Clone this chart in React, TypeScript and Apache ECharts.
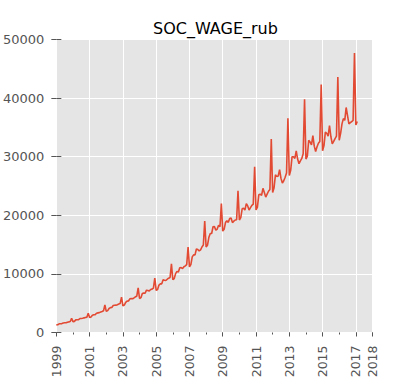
import React, { useEffect, useRef } from "react";
import * as echarts from "echarts";

const chartTitle = "SOC_WAGE_rub";
const firstYear = 1999;
const lastYear = 2018;
const yMin = 0;
const yMax = 50000;
const yStep = 10000;

// monthly values, Jan..Dec
const w1999 = [1300, 1330, 1480, 1500, 1520, 1620, 1660, 1660, 1760, 1810, 1870, 2400];
const w2000 = [1850, 1900, 2150, 2170, 2200, 2380, 2400, 2420, 2500, 2560, 2620, 3300];
const w2001 = [2560, 2630, 2930, 3020, 3040, 3280, 3350, 3390, 3490, 3580, 3700, 4700];
const w2002 = [3600, 3730, 4100, 4250, 4280, 4600, 4650, 4670, 4750, 4850, 4930, 6050];
const w2003 = [4550, 4680, 5150, 5350, 5370, 5750, 5790, 5760, 5920, 6090, 6190, 7600];
const w2004 = [5800, 5950, 6650, 6720, 6700, 7220, 7160, 7080, 7340, 7400, 7560, 9300];
const w2005 = [7200, 7330, 8100, 8300, 8300, 9000, 8930, 8880, 9090, 9270, 9380, 11700];
const w2006 = [9000, 9200, 10050, 10420, 10340, 11050, 11070, 10900, 11220, 11370, 11570, 14600];
const w2007 = [11200, 11600, 12900, 13250, 13250, 14250, 14170, 13920, 14090, 14590, 14920, 19000];
const w2008 = [14600, 14900, 16250, 16900, 16900, 18050, 18100, 17450, 17650, 18300, 18050, 22000];
const w2009 = [17300, 17600, 18800, 19050, 18800, 19450, 19550, 18750, 19000, 19200, 19250, 24200];
const w2010 = [19200, 19600, 21100, 21200, 20900, 22000, 21600, 20900, 21300, 21700, 21900, 28300];
const w2011 = [20900, 21400, 23500, 23600, 23400, 24600, 23900, 23100, 23600, 24100, 24400, 33000];
const w2012 = [23900, 24700, 26900, 26600, 26700, 27800, 26300, 25500, 25900, 26500, 27200, 36550];
const w2013 = [26800, 27700, 30000, 30000, 29700, 31000, 29600, 28800, 29300, 29700, 30500, 39800];
const w2014 = [29600, 30100, 32800, 32500, 32000, 33600, 31800, 30900, 31700, 32300, 32600, 42300];
const w2015 = [31000, 31900, 34200, 34000, 33500, 35300, 33400, 32200, 32600, 33100, 33500, 43600];
const w2016 = [32800, 34000, 35600, 36500, 36200, 38400, 37000, 35600, 35800, 36000, 36200, 47700];
const w2017 = [35400, 36000];

const wage = [
  ...w1999, ...w2000, ...w2001, ...w2002, ...w2003, ...w2004, ...w2005,
  ...w2006, ...w2007, ...w2008, ...w2009, ...w2010, ...w2011, ...w2012,
  ...w2013, ...w2014, ...w2015, ...w2016, ...w2017,
];

const tickColor = "#555555";
const labelFont = "DejaVu Sans";

export default function App() {
  const ref = useRef<HTMLDivElement>(null);
  useEffect(() => {
    if (!ref.current) return;
    const chart = echarts.init(ref.current, null, { renderer: "svg" });
    // x is measured in years since firstYear (so that min is a multiple of the interval)
    const span = lastYear - firstYear;
    const seriesData = wage.map((v, i) => [i / 12, v]);
    const grid = { left: 52.5, top: 39.5, width: 320, height: 293 };
    chart.setOption({
      animation: false,
      title: {
        text: chartTitle,
        left: 148,
        top: 15,
        textStyle: { fontFamily: labelFont, fontSize: 16, fontWeight: "normal", color: "#000" },
      },
      grid: { ...grid, show: true, backgroundColor: "#E5E5E5", borderWidth: 0 },
      xAxis: [
        {
          type: "value",
          min: 0,
          max: span,
          interval: 2,
          axisLine: { show: false },
          axisTick: { show: true, length: 4, lineStyle: { color: tickColor } },
          axisLabel: {
            rotate: 90,
            margin: 13,
            showMinLabel: true,
            showMaxLabel: true,
            fontFamily: labelFont,
            fontSize: 12.5,
            color: tickColor,
            formatter: (v: number) => String(Math.round(v) + firstYear),
          },
          splitLine: { show: true, lineStyle: { color: "#FFFFFF", width: 1 } },
        },
        {
          type: "value",
          min: 0,
          max: span,
          interval: 1,
          position: "bottom",
          axisLine: { show: false },
          axisTick: { show: true, length: 2, lineStyle: { color: tickColor } },
          axisLabel: { show: false },
          splitLine: { show: false },
        },
      ],
      yAxis: [
        {
          type: "value",
          min: yMin,
          max: yMax,
          interval: yStep,
          position: "left",
          axisLine: { show: false },
          axisTick: { show: true, length: 5, lineStyle: { color: tickColor } },
          axisLabel: {
            margin: 12,
            fontFamily: labelFont,
            fontSize: 13,
            color: tickColor,
            formatter: (v: number) => String(v),
          },
          splitLine: { show: true, lineStyle: { color: "#FFFFFF", width: 1 } },
        },
        {
          type: "value",
          min: yMin,
          max: yMax,
          interval: yStep,
          position: "right",
          axisLine: { show: false },
          axisTick: { show: true, length: 5, lineStyle: { color: tickColor } },
          axisLabel: { show: false },
          splitLine: { show: false },
        },
      ],
      series: [
        {
          type: "line",
          xAxisIndex: 0,
          yAxisIndex: 0,
          data: seriesData,
          showSymbol: false,
          lineStyle: { color: "#E24A33", width: 1.6 },
        },
      ],
    });
    return () => chart.dispose();
  }, []);
  return (
    <div
      ref={ref}
      style={{ position: "fixed", left: 0, top: 0, width: 413, height: 390, background: "#fff" }}
    />
  );
}
